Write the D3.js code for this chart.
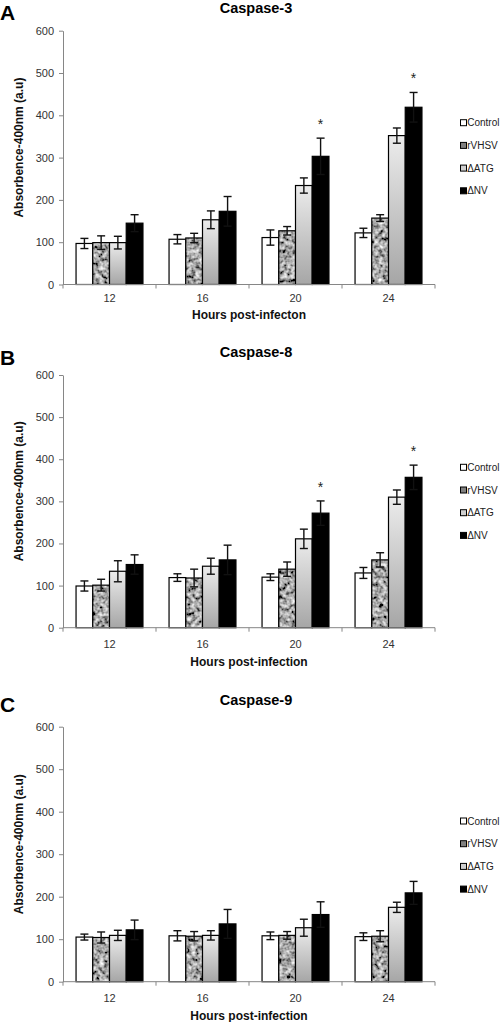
<!DOCTYPE html>
<html>
<head>
<meta charset="utf-8">
<script src="https://cdn.jsdelivr.net/npm/d3@7"></script>
<style>
  html, body { margin: 0; padding: 0; background: #fff; }
  svg { display: block; font-family: "Liberation Sans", Arial, sans-serif; }
</style>
</head>
<body>
<svg id="chart" width="500" height="1022"></svg>
<script>
// ---------------- data ----------------
const categories = ["12", "16", "20", "24"];
const seriesNames = ["Control", "rVHSV", "\u0394ATG", "\u0394NV"];
const yTicks = [0, 100, 200, 300, 400, 500, 600];
const panelLetters = ["A", "B", "C"];
const panelTitles = ["Caspase-3", "Caspase-8", "Caspase-9"];
const xTitles = ["Hours post-infecton", "Hours post-infection", "Hours post-infection"];

// means: one row per series (Control, rVHSV, ΔATG, ΔNV), one value per category
const casp3Means = [[97, 107, 111, 122], [99, 110, 127, 157], [99, 153, 234, 352], [145, 173, 303, 419]];
const casp3Errs  = [[12, 11, 18, 11],   [16, 11, 10, 8],    [15, 21, 18, 18],   [20, 35, 43, 35]];
const casp8Means = [[99, 119, 120, 130], [101, 118, 139, 161], [134, 146, 211, 310], [150, 161, 272, 357]];
const casp8Errs  = [[12, 9, 8, 13],     [14, 21, 17, 17],     [25, 19, 23, 17],     [23, 35, 29, 29]];
const casp9Means = [[105, 108, 108, 106], [104, 107, 109, 107], [109, 109, 127, 175], [122, 136, 158, 209]];
const casp9Errs  = [[7, 12, 9, 9],       [13, 11, 9, 13],      [12, 11, 20, 12],     [23, 34, 30, 27]];
// significance stars: [seriesIndex, categoryIndex]
const casp3Stars = [[3, 2], [3, 3]];
const casp8Stars = [[3, 2], [3, 3]];
const casp9Stars = [];

const panelData = [
  { means: casp3Means, errs: casp3Errs, stars: casp3Stars },
  { means: casp8Means, errs: casp8Errs, stars: casp8Stars },
  { means: casp9Means, errs: casp9Errs, stars: casp9Stars }
];

// ---------------- layout ----------------
const layout = [
  { top: 30.7, bottom: 284.5, letterY: 20, titleY: 13, tickOff: 17.8, xTitleOff: 34.8, legendY: 122.7 },
  { top: 375, bottom: 627.7, letterY: 365, titleY: 357, tickOff: 20.3, xTitleOff: 38.3, legendY: 467.3 },
  { top: 726.7, bottom: 981.7, letterY: 712, titleY: 705, tickOff: 20.6, xTitleOff: 38.6, legendY: 821 }
];
const plotLeft = 63, plotRight = 435;
const axisColor = "#868686";

const svg = d3.select("#chart");
const defs = svg.append("defs");

// mottled texture for rVHSV
const f = defs.append("filter").attr("id", "mottle")
  .attr("x", 0).attr("y", 0).attr("width", 1).attr("height", 1)
  .attr("filterUnits", "objectBoundingBox");
f.append("feTurbulence").attr("type", "fractalNoise").attr("baseFrequency", 0.24)
  .attr("numOctaves", 2).attr("seed", 7).attr("result", "noise");
f.append("feColorMatrix").attr("in", "noise").attr("type", "matrix")
  .attr("values", "1.6 0 0 0 -0.4  1.6 0 0 0 -0.4  1.6 0 0 0 -0.4  0 0 0 0 1")
  .attr("result", "gray");
f.append("feComposite").attr("in", "gray").attr("in2", "SourceAlpha").attr("operator", "in");

const grad = defs.append("linearGradient").attr("id", "atgGrad")
  .attr("x1", 0).attr("y1", 0).attr("x2", 0).attr("y2", 1);
grad.append("stop").attr("offset", "0%").attr("stop-color", "#ececec");
grad.append("stop").attr("offset", "100%").attr("stop-color", "#a6a6a6");

const seriesFill = ["#ffffff", "#8c8c8c", "url(#atgGrad)", "#000000"];
const legendFill = ["#ffffff", "#808080", "#cfcfcf", "#000000"];

const x0 = d3.scaleBand().domain(categories).range([plotLeft, plotRight]).padding(0);
const x1 = d3.scaleBand().domain(seriesNames).range([0, x0.bandwidth()]).paddingInner(0).paddingOuter(0.78);

panelData.forEach((pd, pi) => {
  const L = layout[pi];
  const y = d3.scaleLinear().domain([0, 600]).range([L.bottom, L.top]);
  const g = svg.append("g");

  // panel letter & title
  g.append("text").attr("x", 0).attr("y", L.letterY)
    .attr("font-size", 21).attr("font-weight", "bold").attr("fill", "#000").text(panelLetters[pi]);
  g.append("text").attr("x", 256).attr("y", L.titleY).attr("text-anchor", "middle")
    .attr("font-size", 14.5).attr("font-weight", "bold").attr("fill", "#000").text(panelTitles[pi]);

  // y axis
  const yAxis = d3.axisLeft(y).tickValues(yTicks).tickSize(4).tickPadding(5).tickSizeOuter(0);
  const ya = g.append("g").attr("transform", `translate(${plotLeft},0)`).call(yAxis);
  ya.select(".domain").attr("stroke", axisColor);
  ya.selectAll(".tick line").attr("stroke", axisColor);
  ya.selectAll(".tick text").attr("fill", "#333").attr("font-size", 11)
    .attr("font-family", "Liberation Sans, Arial, sans-serif");

  // y title
  g.append("text")
    .attr("transform", `translate(23,${(L.top + L.bottom) / 2 - 10}) rotate(-90)`)
    .attr("text-anchor", "middle").attr("font-size", 12).attr("font-weight", "bold")
    .attr("fill", "#111").text("Absorbence-400nm (a.u)");

  // bars
  pd.means.forEach((row, si) => {
    row.forEach((v, ci) => {
      const bx = x0(categories[ci]) + x1(seriesNames[si]);
      const bw = x1.bandwidth();
      const by = y(v);
      const bh = y(0) - y(v);
      if (si === 1) {
        g.append("rect").attr("x", bx).attr("y", by).attr("width", bw).attr("height", bh)
          .attr("fill", "#8c8c8c").attr("filter", "url(#mottle)");
        g.append("rect").attr("x", bx).attr("y", by).attr("width", bw).attr("height", bh)
          .attr("fill", "none").attr("stroke", "#000").attr("stroke-width", 1.2);
      } else {
        g.append("rect").attr("x", bx).attr("y", by).attr("width", bw).attr("height", bh)
          .attr("fill", seriesFill[si]).attr("stroke", "#000").attr("stroke-width", 1.2);
      }
    });
  });

  // error bars
  pd.means.forEach((row, si) => {
    row.forEach((v, ci) => {
      const e = pd.errs[si][ci];
      const cx = x0(categories[ci]) + x1(seriesNames[si]) + x1.bandwidth() / 2;
      const yt = y(v + e), yb = y(v - e);
      const col = "#111";
      g.append("line").attr("x1", cx).attr("x2", cx).attr("y1", yt).attr("y2", yb)
        .attr("stroke", col).attr("stroke-width", 1.4);
      [yt, yb].forEach(yy => {
        g.append("line").attr("x1", cx - 4).attr("x2", cx + 4).attr("y1", yy).attr("y2", yy)
          .attr("stroke", col).attr("stroke-width", 1.4);
      });
    });
  });

  // stars
  pd.stars.forEach(([si, ci]) => {
    const v = pd.means[si][ci] + pd.errs[si][ci];
    const cx = x0(categories[ci]) + x1(seriesNames[si]) + x1.bandwidth() / 2;
    g.append("text").attr("x", cx).attr("y", y(v) - 9).attr("text-anchor", "middle")
      .attr("font-size", 14).attr("fill", "#222").text("*");
  });

  // x axis (drawn after bars so the line sits on top)
  g.append("line").attr("x1", plotLeft).attr("x2", plotRight)
    .attr("y1", y(0)).attr("y2", y(0)).attr("stroke", axisColor).attr("stroke-width", 1);
  const bounds = categories.map(c => x0(c)).concat([x0(categories[categories.length - 1]) + x0.bandwidth()]);
  bounds.forEach(bx => {
    g.append("line").attr("x1", bx).attr("x2", bx).attr("y1", y(0)).attr("y2", y(0) + 4)
      .attr("stroke", axisColor);
  });
  categories.forEach(c => {
    g.append("text").attr("x", x0(c) + x0.bandwidth() / 2).attr("y", y(0) + L.tickOff)
      .attr("text-anchor", "middle").attr("font-size", 11).attr("fill", "#333").text(c);
  });
  g.append("text").attr("x", (plotLeft + plotRight) / 2).attr("y", y(0) + L.xTitleOff)
    .attr("text-anchor", "middle").attr("font-size", 12).attr("font-weight", "bold")
    .attr("fill", "#111").text(xTitles[pi]);

  // legend
  seriesNames.forEach((s, si) => {
    const ly = L.legendY + si * 22.7;
    g.append("rect").attr("x", 460.5).attr("y", ly - 3).attr("width", 6).attr("height", 6)
      .attr("fill", legendFill[si]).attr("stroke", "#000").attr("stroke-width", 1);
    g.append("text").attr("x", 467.2).attr("y", ly + 3.6).attr("font-size", 10)
      .attr("fill", "#222").text(s);
  });
});
</script>
</body>
</html>
